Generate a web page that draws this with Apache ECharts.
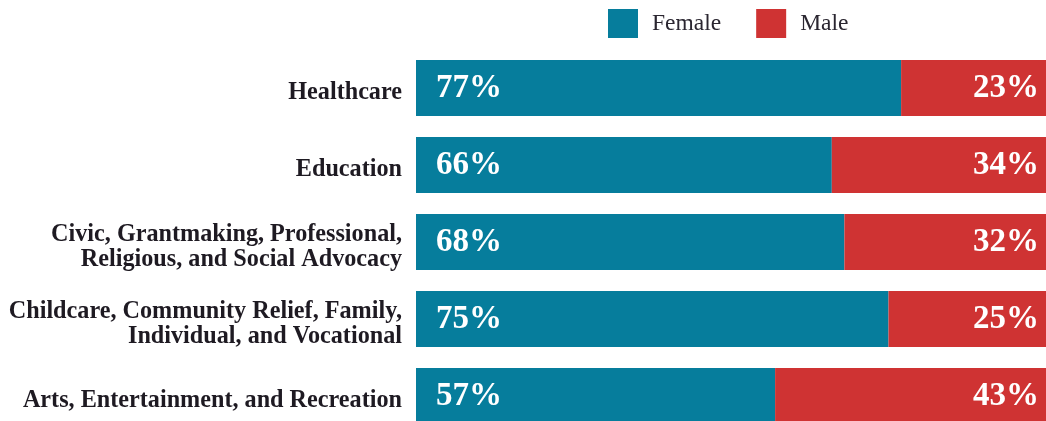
<!DOCTYPE html>
<html>
<head>
<meta charset="utf-8">
<title>Female and Male Share by Subsector</title>
<script src="https://cdn.jsdelivr.net/npm/echarts@6/dist/echarts.min.js"></script>
<style>
  html, body { margin: 0; padding: 0; background: #ffffff; }
  #chart { width: 1046px; height: 421px; }
</style>
</head>
<body>
<div id="chart"></div>
<script>
// Subsectors, top to bottom
const categories = [
  'Healthcare',
  'Education',
  'Civic, Grantmaking, Professional,\nReligious, and Social Advocacy',
  'Childcare, Community Relief, Family,\nIndividual, and Vocational',
  'Arts, Entertainment, and Recreation'
];
// Share of workers, percent
const femaleShare = [77, 66, 68, 75, 57];
const maleShare = [23, 34, 32, 25, 43];
const seriesNames = ['Female', 'Male'];

const TEAL = '#067d9c';
const RED = '#cf3333';
const SERIF = '"Liberation Serif", "DejaVu Serif", serif';

const chart = echarts.init(document.getElementById('chart'), null, { renderer: 'canvas' });

// A thin blank first line nudges each category label a few pixels down.
function categoryLabel(value) {
  return '{gap| }\n' + value.split('\n').map(line => '{name|' + line + '}').join('\n');
}

chart.setOption({
  animation: false,
  backgroundColor: '#ffffff',
  legend: {
    data: seriesNames,
    left: 608,
    top: 9,
    padding: 0,
    itemWidth: 30,
    itemHeight: 29,
    itemGap: 35,
    icon: 'rect',
    textStyle: {
      fontFamily: SERIF,
      fontSize: 23.5,
      color: '#2a2630',
      padding: [0, 0, 0, 9]
    }
  },
  // fixed plot rectangle; the last row runs past the bottom edge of the canvas
  grid: {
    left: 416,
    top: 49.5,
    width: 630,
    height: 385,
    containLabel: false,
    outerBoundsMode: 'none'
  },
  xAxis: {
    type: 'value',
    min: 0,
    max: 100,
    show: false
  },
  yAxis: {
    type: 'category',
    data: categories,
    inverse: true,
    axisLine: { show: false },
    axisTick: { show: false },
    splitLine: { show: false },
    axisLabel: {
      margin: 14,
      align: 'right',
      formatter: categoryLabel,
      rich: {
        gap: { fontSize: 1, lineHeight: 10 },
        name: {
          fontFamily: SERIF,
          fontWeight: 'bold',
          fontSize: 24.2,
          lineHeight: 25,
          color: '#1e1a22',
          align: 'right'
        }
      }
    }
  },
  series: [
    {
      name: seriesNames[0],
      type: 'bar',
      stack: 'share',
      barWidth: 56,
      data: femaleShare,
      itemStyle: { color: TEAL },
      label: {
        show: true,
        position: 'insideLeft',
        distance: 20,
        formatter: '{c}%',
        fontFamily: SERIF,
        fontWeight: 'bold',
        fontSize: 33,
        color: '#ffffff'
      }
    },
    {
      name: seriesNames[1],
      type: 'bar',
      stack: 'share',
      barWidth: 56,
      data: maleShare,
      itemStyle: { color: RED },
      label: {
        show: true,
        position: 'insideRight',
        distance: 7,
        formatter: '{c}%',
        fontFamily: SERIF,
        fontWeight: 'bold',
        fontSize: 33,
        color: '#ffffff'
      }
    }
  ]
});
</script>
</body>
</html>
